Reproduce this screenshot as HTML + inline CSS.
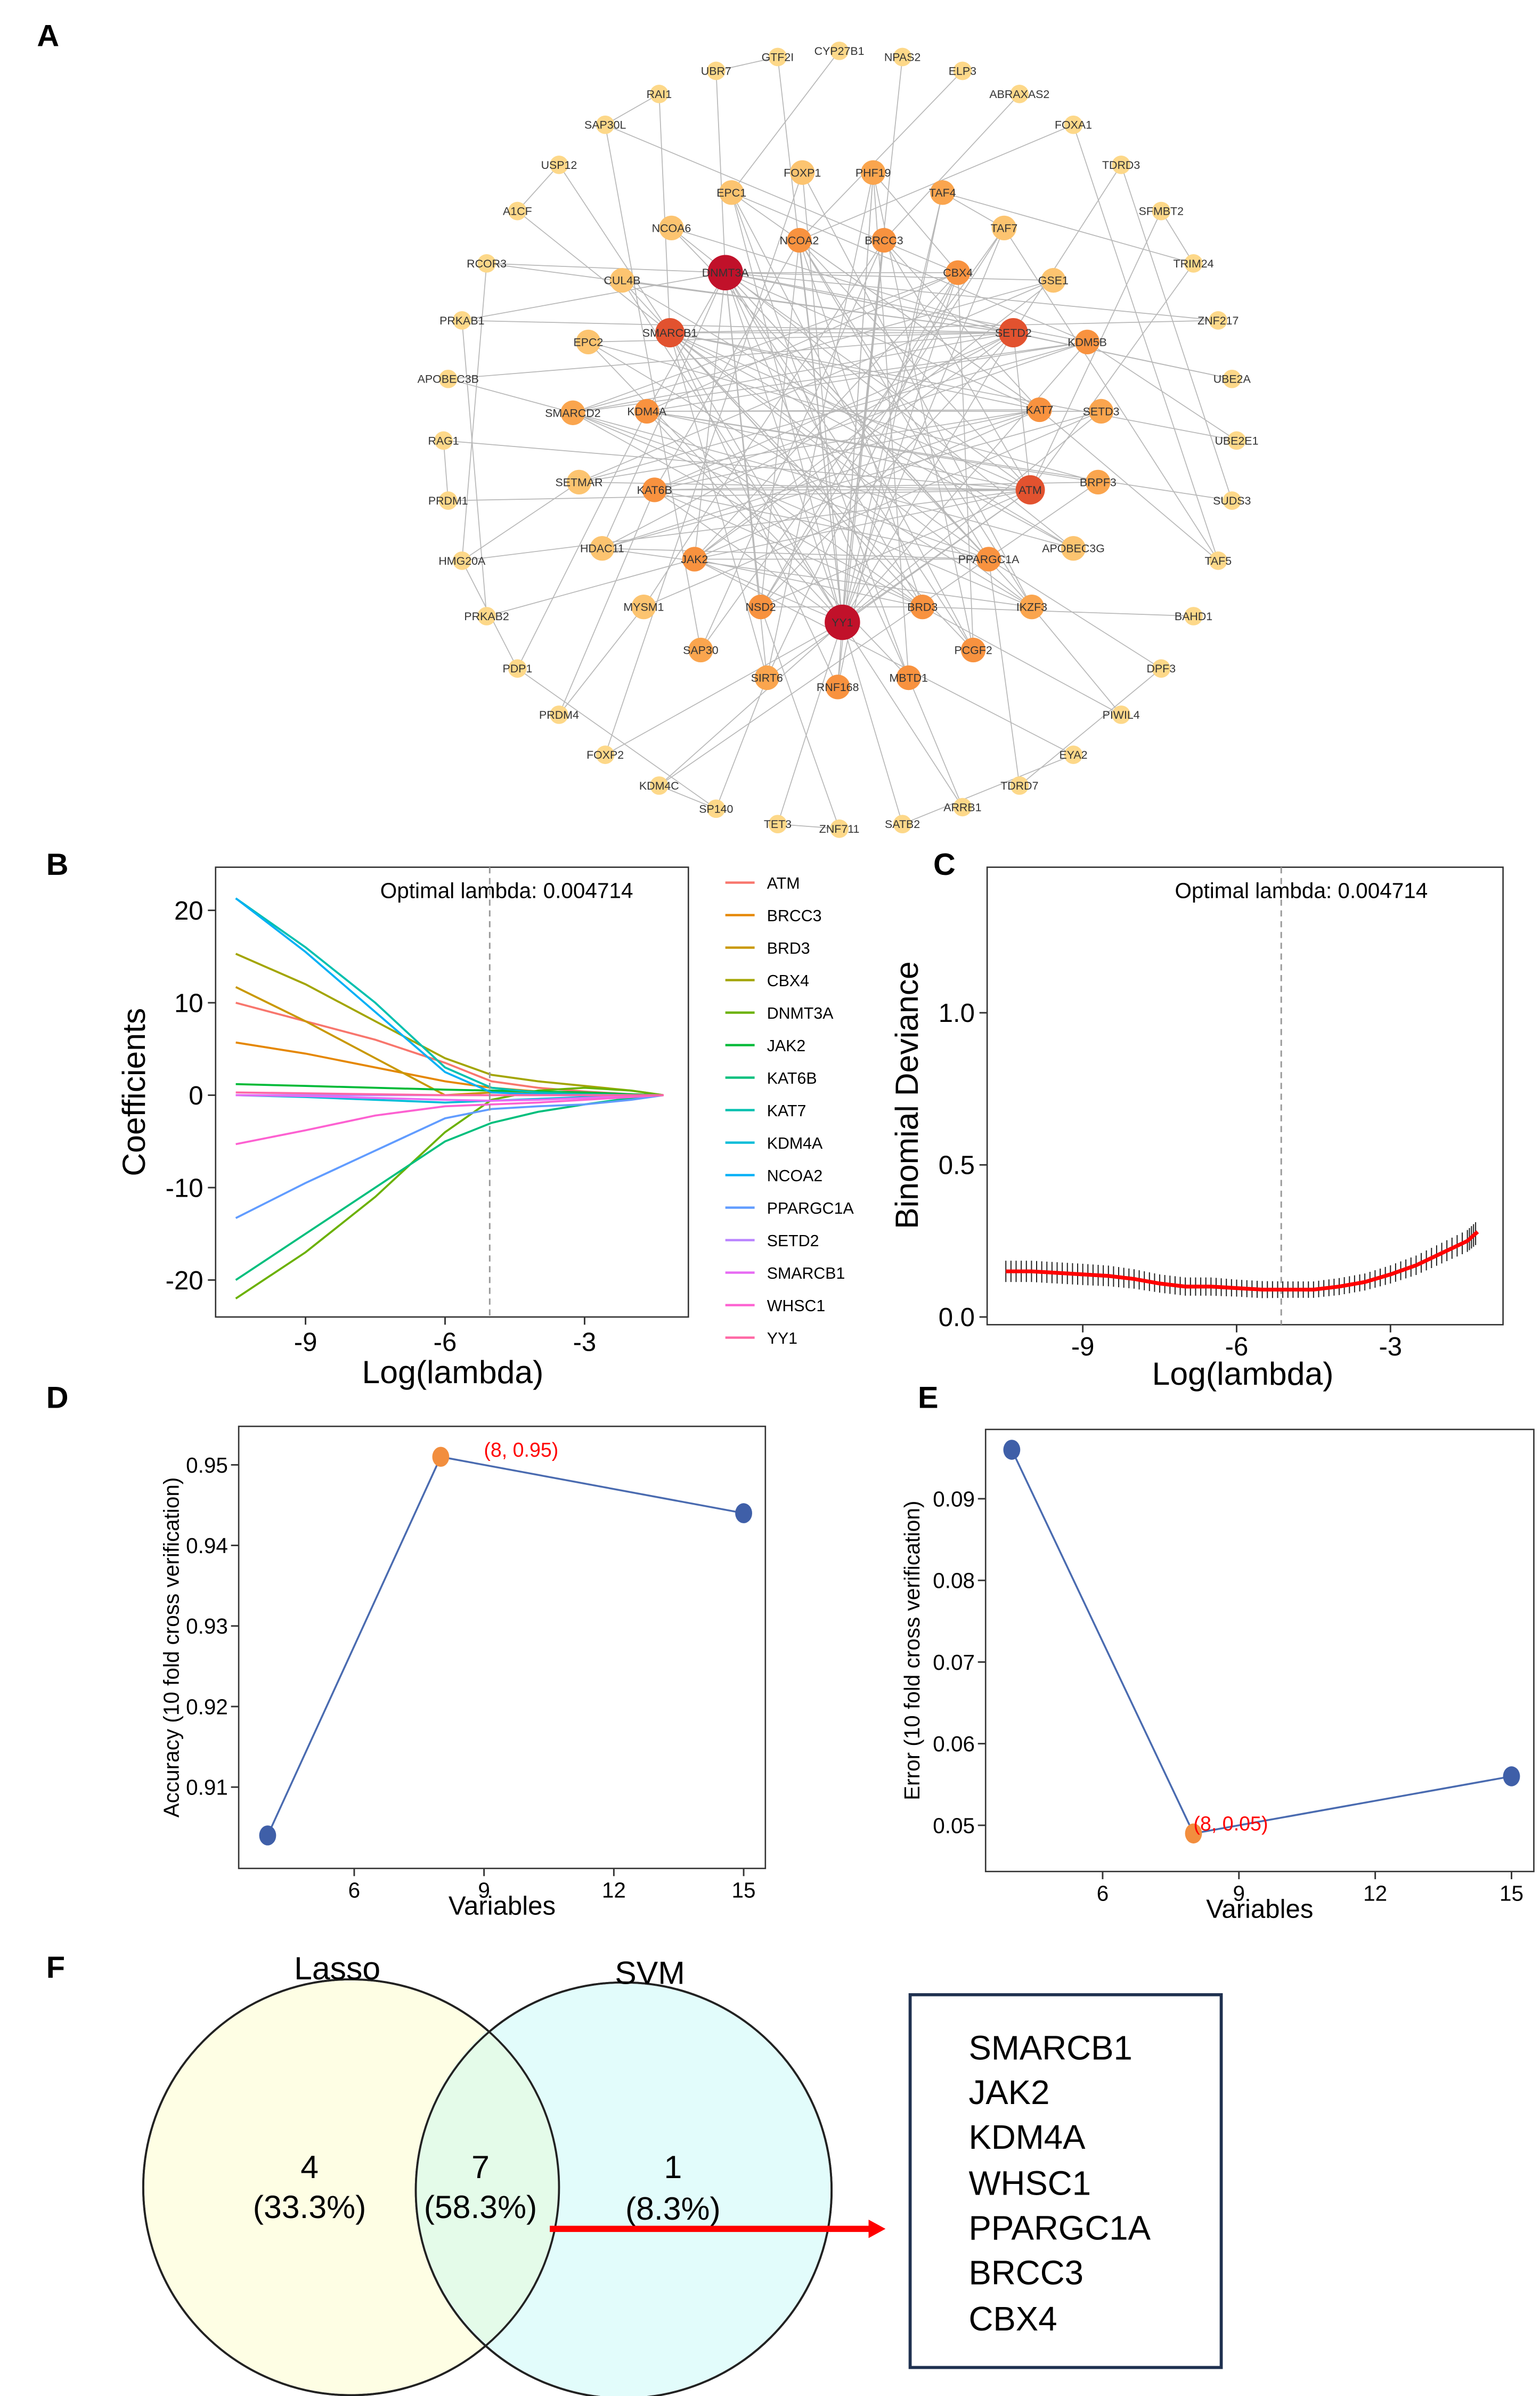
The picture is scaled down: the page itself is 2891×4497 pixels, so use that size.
<!DOCTYPE html>
<html><head><meta charset="utf-8">
<style>
html,body{margin:0;padding:0;background:#fff}
svg{display:block}
text{font-family:"Liberation Sans",sans-serif}
</style></head>
<body>
<svg id="fig" width="2891" height="4497" viewBox="0 0 1000 1555.5" xmlns="http://www.w3.org/2000/svg">
<g id="net"></g>
<g id="pb"></g>
<g id="pc"></g>
<g id="pd"></g>
<g id="pe"></g>
<g id="pf">
  <circle cx="228" cy="1420" r="135" fill="#fefee4" stroke="#222" stroke-width="1.3"/>
  <circle cx="405" cy="1422" r="135" fill="#dffcfb" fill-opacity="0.9" stroke="#222" stroke-width="1.3"/>
  <path d="M316.5,1318 A135,135 0 0 1 316.5,1522 A135,135 0 0 1 316.5,1318Z" fill="#e4fbe9"/>
  <circle cx="228" cy="1420" r="135" fill="none" stroke="#222" stroke-width="1.3"/>
  <circle cx="405" cy="1422" r="135" fill="none" stroke="#222" stroke-width="1.3"/>
  <text x="219" y="1285" font-size="21" text-anchor="middle">Lasso</text>
  <text x="422" y="1288" font-size="21" text-anchor="middle">SVM</text>
  <text x="201" y="1414" font-size="21" text-anchor="middle">4</text>
  <text x="201" y="1440" font-size="21" text-anchor="middle">(33.3%)</text>
  <text x="312" y="1414" font-size="21" text-anchor="middle">7</text>
  <text x="312" y="1440" font-size="21" text-anchor="middle">(58.3%)</text>
  <text x="437" y="1414" font-size="21" text-anchor="middle">1</text>
  <text x="437" y="1441" font-size="21" text-anchor="middle">(8.3%)</text>
  <line x1="357" y1="1447" x2="565" y2="1447" stroke="#f00" stroke-width="4"/>
  <polygon points="564,1441 575,1447 564,1453" fill="#f00"/>
  <rect x="591" y="1295" width="202" height="242" fill="none" stroke="#1f3150" stroke-width="2"/>
  <g font-size="22">
    <text x="629" y="1337">SMARCB1</text><text x="629" y="1366">JAK2</text><text x="629" y="1395">KDM4A</text>
    <text x="629" y="1425">WHSC1</text><text x="629" y="1454">PPARGC1A</text><text x="629" y="1483">BRCC3</text><text x="629" y="1513">CBX4</text>
  </g>
</g>
<g font-weight="bold" font-size="20">
  <text x="24" y="30">A</text><text x="30" y="568">B</text><text x="606" y="568">C</text>
  <text x="30" y="914">D</text><text x="596" y="914">E</text><text x="30" y="1284">F</text>
</g>
</svg>
<script>
const NS="http://www.w3.org/2000/svg";
function mk(p,t,a,txt){const e=document.createElementNS(NS,t);for(const k in a)e.setAttribute(k,a[k]);if(txt!==undefined)e.textContent=txt;p.appendChild(e);return e;}

// ---------- Panel A network ----------
const nodeNames=["DNMT3A","YY1","SMARCB1","SETD2","ATM","NCOA2","KDM4A","KAT7","KAT6B","JAK2","NSD2","BRD3","PPARGC1A","SIRT6","CBX4","KDM5B","SMARCD2","HDAC11","PCGF2","IKZF3","EPC1","BRCC3","PHF19","RNF168","MBTD1","SAP30","CUL4B","EPC2","SETD3","GSE1","TAF7","TAF4","FOXP1","NCOA6","APOBEC3G","BRPF3","SETMAR","MYSM1",
"GTF2I","CYP27B1","NPAS2","UBR7","ELP3","ABRAXAS2","RAI1","FOXA1","SAP30L","TDRD3","USP12","SFMBT2","A1CF","TRIM24","RCOR3","ZNF217","PRKAB1","UBE2A","APOBEC3B","UBE2E1","RAG1","SUDS3","PRDM1","TAF5","HMG20A","BAHD1","PRKAB2","DPF3","PDP1","PIWIL4","PRDM4","EYA2","FOXP2","TDRD7","KDM4C","ARRB1","SP140","SATB2","TET3","ZNF711"];
const nodeX=[471,547,435,658,669,519,420,675,425,451,494,599,642,498,622,706,372,391,632,670,475,574,567,544,590,455,404,382,715,684,652,612,521,436,697,713,376,418,
505,545,586,465,625,662,428,697,393,728,363,754,336,775,316,791,300,800,291,803,288,800,291,791,300,775,316,754,336,728,363,697,393,662,428,625,465,586,505,545];
const nodeY=[177,404,216,216,318,156,267,266,318,363,394,394,363,440,177,222,268,356,422,394,125,156,112,446,440,422,182,222,267,182,148,125,112,148,356,313,313,394,
37,33,37,46,46,61,61,81,81,107,107,137,137,171,171,208,208,246,246,286,286,325,325,364,364,400,400,434,434,464,464,490,490,510,510,524,525,535,535,538];
const nodeDegree=[30,30,24,24,23,16,16,16,16,16,16,16,16,15,16,16,15,13,16,15,13,16,15,16,16,15,13,13,15,13,13,15,13,13,13,15,13,13,
5,5,5,5,5,5,5,5,5,5,5,5,5,5,5,5,5,5,5,5,5,5,5,5,5,5,5,5,5,5,5,5,5,5,5,5,5,5,5,5];
const edgeList="DNMT3A-YY1 DNMT3A-SETD2 DNMT3A-ATM DNMT3A-KAT7 DNMT3A-BRD3 DNMT3A-PPARGC1A DNMT3A-CBX4 DNMT3A-KDM5B DNMT3A-JAK2 DNMT3A-NSD2 DNMT3A-SIRT6 DNMT3A-HDAC11 DNMT3A-IKZF3 DNMT3A-RCOR3 DNMT3A-PRKAB1 DNMT3A-ZNF217 DNMT3A-UBE2A DNMT3A-GSE1 DNMT3A-MBTD1 DNMT3A-PCGF2 DNMT3A-UBR7 DNMT3A-KDM4A "+
"YY1-SMARCB1 YY1-SETD2 YY1-ATM YY1-NCOA2 YY1-KDM4A YY1-KAT6B YY1-JAK2 YY1-CBX4 YY1-KDM5B YY1-EPC1 YY1-BRCC3 YY1-PHF19 YY1-CUL4B YY1-TAF7 YY1-TAF4 YY1-FOXP1 YY1-SATB2 YY1-TET3 YY1-ARRB1 YY1-KDM4C YY1-FOXP2 YY1-SETD3 YY1-GTF2I YY1-NPAS2 "+
"SMARCB1-SETD2 SMARCB1-ATM SMARCB1-KAT7 SMARCB1-BRD3 SMARCB1-PPARGC1A SMARCB1-SIRT6 SMARCB1-IKZF3 SMARCB1-PCGF2 SMARCB1-RNF168 SMARCB1-APOBEC3G SMARCB1-ZNF217 SMARCB1-A1CF SMARCB1-USP12 SMARCB1-RAI1 SMARCB1-UBE2E1 "+
"SETD2-ATM SETD2-KAT6B SETD2-JAK2 SETD2-NSD2 SETD2-SMARCD2 SETD2-HDAC11 SETD2-EPC2 SETD2-CUL4B SETD2-NCOA6 SETD2-APOBEC3B SETD2-PRKAB1 SETD2-RCOR3 SETD2-TDRD3 SETD2-UBE2A "+
"ATM-KDM4A ATM-KAT6B ATM-SETMAR ATM-JAK2 ATM-NSD2 ATM-SIRT6 ATM-NCOA2 ATM-BRCC3 ATM-RAG1 ATM-PRDM1 ATM-TRIM24 ATM-SFMBT2 ATM-HMG20A "+
"NCOA2-KAT7 NCOA2-PPARGC1A NCOA2-BRD3 NCOA2-IKZF3 NCOA2-NSD2 NCOA2-KAT6B NCOA2-FOXA1 NCOA2-ELP3 "+
"KDM4A-KAT7 KDM4A-CBX4 KDM4A-KDM5B KDM4A-SETD3 KDM4A-BRD3 KDM4A-BRPF3 KDM4A-SUDS3 KDM4A-PDP1 "+
"KAT7-KAT6B KAT7-JAK2 KAT7-HDAC11 KAT7-SETMAR KAT7-BRCC3 KAT7-EPC1 KAT7-TAF5 "+
"KAT6B-BRD3 KAT6B-PPARGC1A KAT6B-KDM5B KAT6B-BRPF3 KAT6B-PRDM4 "+
"JAK2-PPARGC1A JAK2-BRD3 JAK2-CBX4 JAK2-GSE1 JAK2-PRKAB2 JAK2-EYA2 "+
"NSD2-BRD3 NSD2-CBX4 NSD2-TAF7 NSD2-ZNF711 "+
"BRD3-SMARCD2 BRD3-CUL4B BRD3-PIWIL4 BRD3-BAHD1 "+
"PPARGC1A-HDAC11 PPARGC1A-SMARCD2 PPARGC1A-NCOA6 PPARGC1A-DPF3 PPARGC1A-TDRD7 "+
"SIRT6-CBX4 SIRT6-PHF19 SIRT6-SP140 CBX4-PCGF2 CBX4-SMARCD2 CBX4-PHF19 CBX4-SAP30L "+
"KDM5B-SMARCD2 KDM5B-EPC1 KDM5B-SETMAR KDM5B-UBE2E1 SMARCD2-IKZF3 SMARCD2-GSE1 HDAC11-IKZF3 HDAC11-SETD3 "+
"PCGF2-EPC1 PCGF2-PHF19 IKZF3-EPC2 IKZF3-FOXP1 IKZF3-PIWIL4 EPC1-MBTD1 EPC1-CYP27B1 BRCC3-RNF168 BRCC3-SAP30 BRCC3-MYSM1 BRCC3-ABRAXAS2 "+
"PHF19-RNF168 PHF19-MBTD1 RNF168-TAF4 MBTD1-EPC2 MBTD1-ARRB1 SAP30-TAF7 SAP30-SAP30L CUL4B-APOBEC3G EPC2-BRPF3 "+
"SETD3-MYSM1 GSE1-SETMAR TAF7-TAF4 TAF7-TAF5 TAF4-TRIM24 FOXP1-FOXP2 NCOA6-APOBEC3G APOBEC3G-APOBEC3B BRPF3-KDM4C SETMAR-HMG20A MYSM1-PRDM4 "+
"PRKAB1-PRKAB2 RAG1-PRDM1 HMG20A-PDP1 UBR7-GTF2I FOXA1-TAF5 SFMBT2-TRIM24 EYA2-SATB2 TET3-ZNF711 SP140-PDP1 USP12-A1CF RCOR3-HMG20A DPF3-TDRD7 RAI1-SAP30L TDRD3-SUDS3 KDM4C-SP140";

const net=document.getElementById('net');
const idx={};nodeNames.forEach((n,i)=>idx[n]=i);
const eg=mk(net,'g',{stroke:'#b8b8b8','stroke-width':'0.6',fill:'none'});


edgeList.split(' ').forEach(p=>{const [a,b]=p.split('-');const i=idx[a],j=idx[b];if(i===undefined||j===undefined)return;
 const l=mk(eg,'line',{x1:nodeX[i],y1:nodeY[i],x2:nodeX[j],y2:nodeY[j]});
 
 });
function nodeColor(d){if(d>=28)return '#c1112a';if(d>=20)return '#e2522f';if(d>=16)return '#f8923f';if(d>=15)return '#faa54e';if(d>=13)return '#fcc470';return '#fdd889';}
function nodeR(d){if(d>=28)return 11.5;if(d>=20)return 9.5;if(d>=13)return 8;return 6;}
nodeNames.forEach((n,i)=>{const d=nodeDegree[i];
 const g=mk(net,'g',{});
 
 
 mk(g,'circle',{cx:nodeX[i],cy:nodeY[i],r:nodeR(d),fill:nodeColor(d)});
 mk(g,'text',{x:nodeX[i],y:nodeY[i]+2.6,'font-size':'7.4','text-anchor':'middle',fill:'#333'},n);
});

function axisBox(g,x0,y0,x1,y1){const r=mk(g,'rect',{x:x0,y:y0,width:x1-x0,height:y1-y0,fill:'none',stroke:'#333','stroke-width':'0.9'});
 }

// ---------- Panel B ----------
const bLogLambda=[-10.5,-9,-7.5,-6,-5,-4,-3,-2,-1.3];
const bGenes=["ATM","BRCC3","BRD3","CBX4","DNMT3A","JAK2","KAT6B","KAT7","KDM4A","NCOA2","PPARGC1A","SETD2","SMARCB1","WHSC1","YY1"];
const bColors=["#f8766d","#e58700","#c99800","#a3a500","#6bb100","#00ba38","#00bf7d","#00c0af","#00bcd8","#00b0f6","#619cff","#b983ff","#e76bf3","#fd61d1","#ff67a4"];
const bATM=[10,8,6,3.5,1.5,0.8,0.4,0.1,0];
const bBRCC3=[5.7,4.5,3,1.5,0.8,0.4,0.2,0.1,0];
const bBRD3=[11.7,8,4,0,0.3,0.2,0.1,0,0];
const bCBX4=[15.3,12,8,4,2.2,1.5,1,0.5,0];
const bDNMT3A=[-22,-17,-11,-4,-0.5,0.5,0.8,0.5,0];
const bJAK2=[1.2,1,0.8,0.6,0.5,0.4,0.3,0.1,0];
const bKAT6B=[-20,-15,-10,-5,-3,-1.8,-1,-0.3,0];
const bKAT7=[21.3,16,10,3,0.8,0.3,0.1,0,0];
const bKDM4A=[0,-0.2,-0.5,-0.8,-0.6,-0.4,-0.2,-0.1,0];
const bNCOA2=[21.3,15.5,9,2.5,0.3,0.1,0,0,0];
const bPPARGC1A=[-13.3,-9.5,-6,-2.5,-1.5,-1.2,-1,-0.5,0];
const bSETD2=[0,0,0,0,0,0,0,0,0];
const bSMARCB1=[0,-0.1,-0.3,-0.5,-0.6,-0.5,-0.3,-0.1,0];
const bWHSC1=[-5.3,-3.8,-2.2,-1.2,-1,-0.8,-0.5,-0.2,0];
const bYY1=[0.3,0.2,0.1,0,0,0,0,0,0];
const bSeries=[bATM,bBRCC3,bBRD3,bCBX4,bDNMT3A,bJAK2,bKAT6B,bKAT7,bKDM4A,bNCOA2,bPPARGC1A,bSETD2,bSMARCB1,bWHSC1,bYY1];
const bYTicks=[20,10,0,-10,-20];
const bXTicks=[-9,-6,-3];
const bOptimal=-5.04;
(function(){const g=document.getElementById('pb');
 const X=v=>289+(v+6)*30.2, Y=v=>711-v*6;
 axisBox(g,140,563,447,855);
 bSeries.forEach((s,k)=>{const p=mk(g,'polyline',{points:s.map((v,i)=>X(bLogLambda[i])+','+Y(v)).join(' '),fill:'none',stroke:bColors[k],'stroke-width':'1.3'});
  });
 const d=mk(g,'line',{x1:X(bOptimal),y1:563,x2:X(bOptimal),y2:855,stroke:'#999','stroke-dasharray':'4,3','stroke-width':'1'});
 
 const t=mk(g,'text',{x:329,y:583,'font-size':'14','text-anchor':'middle'},'Optimal lambda: 0.004714');
 
 bYTicks.forEach(v=>{mk(g,'line',{x1:135,x2:140,y1:Y(v),y2:Y(v),stroke:'#333'});
  const tt=mk(g,'text',{x:132,y:Y(v)+6,'font-size':'17','text-anchor':'end'},String(v));});
 bXTicks.forEach(v=>{mk(g,'line',{x1:X(v),x2:X(v),y1:855,y2:860,stroke:'#333'});
  const tt=mk(g,'text',{x:X(v),y:877,'font-size':'17','text-anchor':'middle'},String(v));});
 const xl=mk(g,'text',{x:294,y:898,'font-size':'21','text-anchor':'middle'},'Log(lambda)');
 const yl=mk(g,'text',{x:94,y:709,'font-size':'21','text-anchor':'middle',transform:'rotate(-90 94 709)'},'Coefficients');
 bGenes.forEach((n,k)=>{const yy=573+k*21.1;const lg=mk(g,'g',{});
  
  mk(lg,'line',{x1:471,x2:490,y1:yy,y2:yy,stroke:bColors[k],'stroke-width':'1.5'});
  mk(lg,'text',{x:498,y:yy+4,'font-size':'10.5'},n);});
})();

// ---------- Panel C ----------
const cLogLambda=[-10.5,-10,-9.5,-9,-8.5,-8,-7.5,-7,-6.5,-6,-5.5,-5,-4.5,-4,-3.5,-3,-2.5,-2,-1.5,-1.3];
const cDeviance=[0.15,0.15,0.145,0.14,0.135,0.125,0.11,0.1,0.1,0.095,0.09,0.09,0.09,0.1,0.115,0.14,0.17,0.21,0.25,0.28];
const cErr=[0.035,0.035,0.035,0.035,0.034,0.032,0.03,0.03,0.03,0.028,0.028,0.027,0.027,0.028,0.028,0.03,0.032,0.034,0.036,0.038];
const cYTicks=[0.0,0.5,1.0];
const cXTicks=[-9,-6,-3];
const cOptimal=-5.13;
(function(){const g=document.getElementById('pc');
 const X=v=>803+(v+6)*33.3, Y=v=>855-v*197.5;
 axisBox(g,641,563,976,860);
 const d=mk(g,'line',{x1:X(cOptimal),y1:563,x2:X(cOptimal),y2:860,stroke:'#999','stroke-dasharray':'4,3','stroke-width':'1'});
 
 const t=mk(g,'text',{x:845,y:583,'font-size':'14','text-anchor':'middle'},'Optimal lambda: 0.004714');
 
 const eb=mk(g,'g',{stroke:'#222','stroke-width':'0.7'});
 for(let i=0;i<cLogLambda.length-1;i++){for(let s=0;s<5;s++){const f=s/5;const lx=cLogLambda[i]+(cLogLambda[i+1]-cLogLambda[i])*f;
  const m=cDeviance[i]+(cDeviance[i+1]-cDeviance[i])*f, e=cErr[i]+(cErr[i+1]-cErr[i])*f;
  mk(eb,'line',{x1:X(lx),x2:X(lx),y1:Y(m-e),y2:Y(m+e)});}}
 const p=mk(g,'polyline',{points:cLogLambda.map((v,i)=>X(v)+','+Y(cDeviance[i])).join(' '),fill:'none',stroke:'#f00','stroke-width':'2.5'});
 
 cYTicks.forEach(v=>{mk(g,'line',{x1:636,x2:641,y1:Y(v),y2:Y(v),stroke:'#333'});
  const tt=mk(g,'text',{x:633,y:Y(v)+6,'font-size':'17','text-anchor':'end'},v.toFixed(1));});
 cXTicks.forEach(v=>{mk(g,'line',{x1:X(v),x2:X(v),y1:860,y2:865,stroke:'#333'});
  const tt=mk(g,'text',{x:X(v),y:880,'font-size':'17','text-anchor':'middle'},String(v));});
 const xl=mk(g,'text',{x:807,y:899,'font-size':'21','text-anchor':'middle'},'Log(lambda)');
 const yl=mk(g,'text',{x:596,y:711,'font-size':'21','text-anchor':'middle',transform:'rotate(-90 596 711)'},'Binomial Deviance');
})();

// ---------- Panels D & E ----------
const dVars=[4,8,15];
const dAccuracy=[0.904,0.951,0.944];
const dYTicks=[0.91,0.92,0.93,0.94,0.95];
const eVars=[4,8,15];
const eError=[0.096,0.049,0.056];
const eYTicks=[0.05,0.06,0.07,0.08,0.09];
const xTicksDE=[6,9,12,15];
function svmPanel(g,box,X,Y,xs,ys,yt,best,label,ytitle,ylx,lblOff){
 axisBox(g,box[0],box[1],box[2],box[3]);
 const p=mk(g,'polyline',{points:xs.map((v,i)=>X(v)+','+Y(ys[i])).join(' '),fill:'none',stroke:'#4a6bb0','stroke-width':'1.2'});
 
 xs.forEach((v,i)=>{const c=mk(g,'ellipse',{cx:X(v),cy:Y(ys[i]),rx:5.5,ry:6.5,fill:i===best?'#f28e3e':'#3f5fa8'});
  });
 const bl=mk(g,'text',{x:X(xs[best])+lblOff[0],y:Y(ys[best])+lblOff[1],'font-size':'13',fill:'#f00'},label);
 
 yt.forEach(v=>{mk(g,'line',{x1:box[0]-5,x2:box[0],y1:Y(v),y2:Y(v),stroke:'#333'});
  const tt=mk(g,'text',{x:box[0]-7,y:Y(v)+5,'font-size':'14','text-anchor':'end'},v.toFixed(2));});
 xTicksDE.forEach(v=>{mk(g,'line',{x1:X(v),x2:X(v),y1:box[3],y2:box[3]+5,stroke:'#333'});
  const tt=mk(g,'text',{x:X(v),y:box[3]+19,'font-size':'14','text-anchor':'middle'},String(v));});
 const cx=(box[0]+box[2])/2;
 const xl=mk(g,'text',{x:cx,y:box[3]+30,'font-size':'17','text-anchor':'middle'},'Variables');
 const cy=(box[1]+box[3])/2;
 const yl=mk(g,'text',{x:ylx,y:cy,'font-size':'14','text-anchor':'middle',transform:'rotate(-90 '+ylx+' '+cy+')'},ytitle);
}
svmPanel(document.getElementById('pd'),[155,926,497,1213],v=>230+(v-6)*28.1,v=>951-(v-0.95)*5230,dVars,dAccuracy,dYTicks,1,'(8, 0.95)','Accuracy (10 fold cross verification)',116,[28,0]);
svmPanel(document.getElementById('pe'),[640,928,996,1215],v=>716+(v-6)*29.5,v=>1185-(v-0.05)*5300,eVars,eError,eYTicks,1,'(8, 0.05)','Error (10 fold cross verification)',597,[0,-2]);
</script>
</body></html>
